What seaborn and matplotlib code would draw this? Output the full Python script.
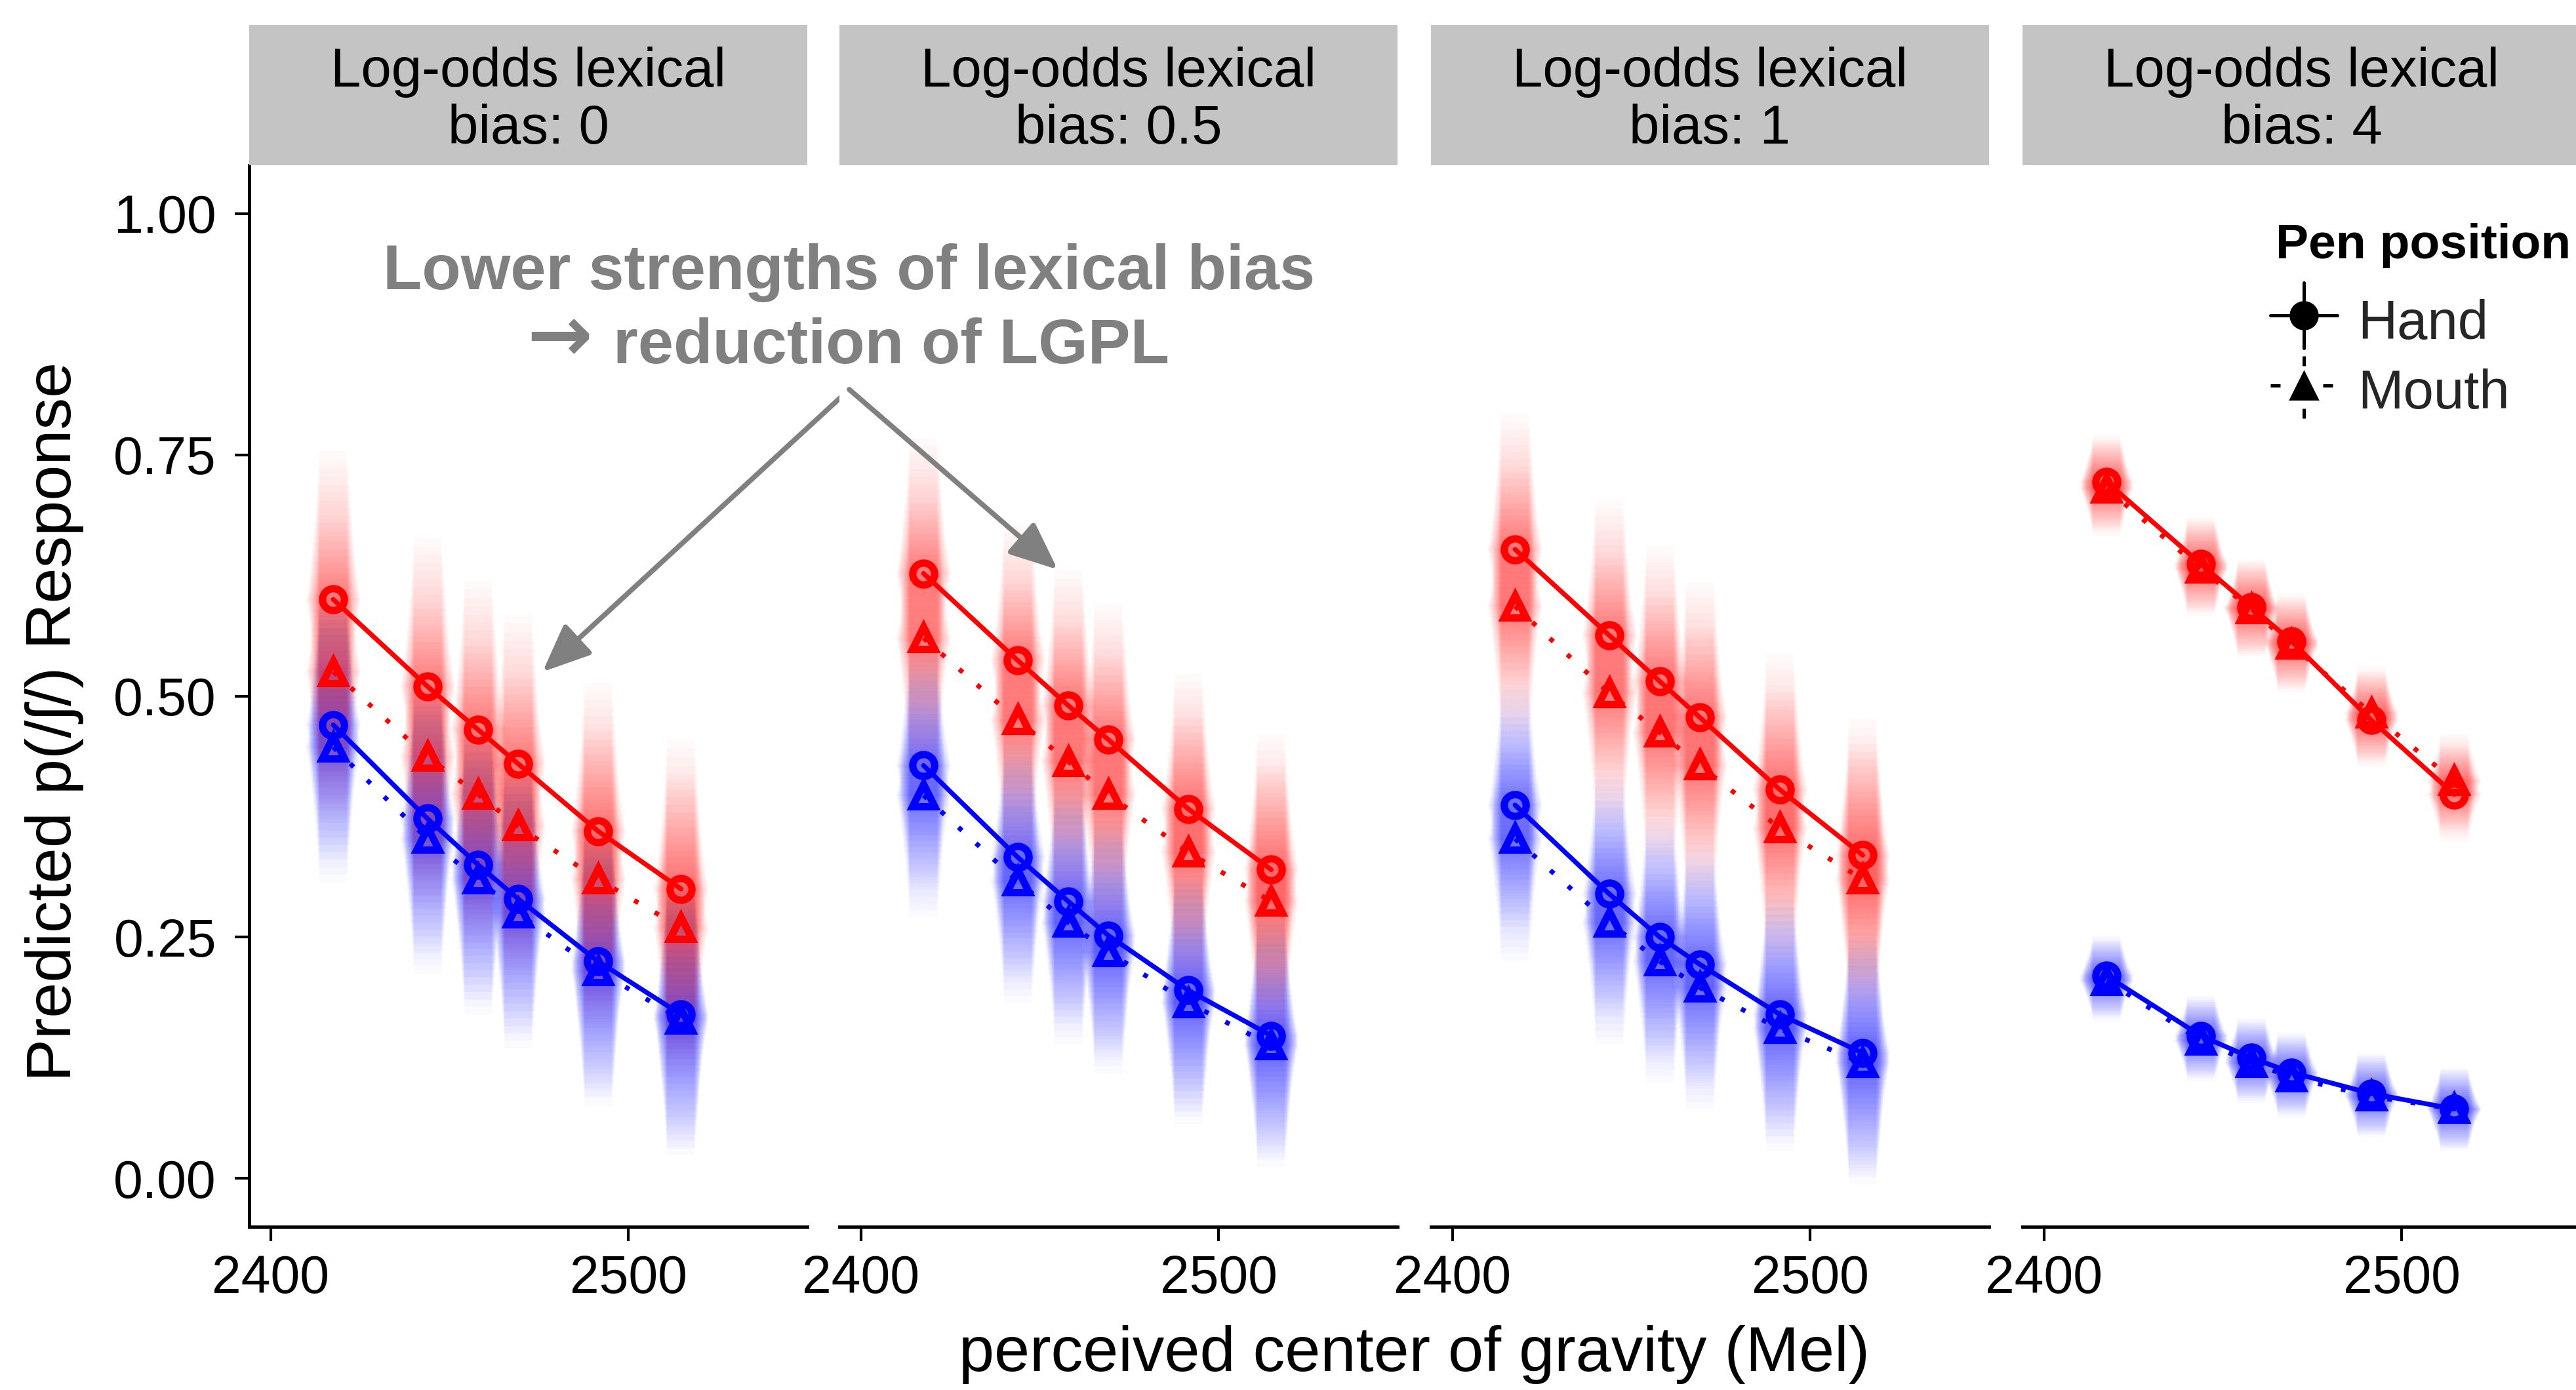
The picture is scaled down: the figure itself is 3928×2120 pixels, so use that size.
import numpy as np
import pandas as pd
import matplotlib
matplotlib.use("Agg")
import matplotlib.pyplot as plt
import seaborn as sns
from matplotlib.lines import Line2D
from matplotlib.legend_handler import HandlerBase

# ---------------- data ----------------
x_cog = [2417.5, 2443.8, 2458.0, 2469.1, 2491.5, 2514.7]
bias_levels = ["0", "0.5", "1", "4"]

red_hand = [[0.600, 0.510, 0.465, 0.430, 0.360, 0.300],
            [0.627, 0.537, 0.490, 0.455, 0.383, 0.320],
            [0.652, 0.563, 0.515, 0.478, 0.403, 0.335],
            [0.722, 0.637, 0.592, 0.557, 0.475, 0.398]]
red_mouth = [[0.525, 0.437, 0.398, 0.365, 0.310, 0.260],
             [0.560, 0.475, 0.432, 0.398, 0.338, 0.287],
             [0.593, 0.503, 0.462, 0.428, 0.363, 0.310],
             [0.715, 0.632, 0.590, 0.553, 0.482, 0.412]]
blue_hand = [[0.470, 0.373, 0.325, 0.290, 0.225, 0.170],
             [0.428, 0.333, 0.287, 0.252, 0.195, 0.148],
             [0.387, 0.295, 0.250, 0.222, 0.170, 0.130],
             [0.210, 0.148, 0.125, 0.110, 0.088, 0.072]]
blue_mouth = [[0.447, 0.352, 0.310, 0.275, 0.215, 0.165],
              [0.397, 0.308, 0.265, 0.235, 0.182, 0.138],
              [0.352, 0.265, 0.225, 0.198, 0.155, 0.120],
              [0.205, 0.143, 0.120, 0.105, 0.085, 0.072]]

# half-extent of posterior sample clouds per panel
red_spread = [0.11, 0.10, 0.10, 0.035]
blue_spread = [0.10, 0.09, 0.09, 0.030]

x_ticks = [2400, 2500]
y_ticks = [0.00, 0.25, 0.50, 0.75, 1.00]
y_tick_labels = ["0.00", "0.25", "0.50", "0.75", "1.00"]
legend_labels = ["Hand", "Mouth"]

palette = {"red": "#FF0000", "blue": "#0000FF"}

# ---------------- long table ----------------
rows = []
for i, b in enumerate(bias_levels):
    for series, col, pos in [(red_hand, "red", "Hand"), (red_mouth, "red", "Mouth"),
                             (blue_hand, "blue", "Hand"), (blue_mouth, "blue", "Mouth")]:
        for x, y in zip(x_cog, series[i]):
            rows.append(dict(bias=b, cog=x, p=y, color=col, position=pos))
df = pd.DataFrame(rows)

sns.set_theme(style="ticks")
plt.rcParams["font.family"] = ["Liberation Sans", "DejaVu Sans"]

W, H = 3928, 2120
fig = plt.figure(figsize=(W / 200, H / 200), dpi=200)
lefts = [380, 1280, 2182, 3084]
pw = 851
top, bottom = 252, 1871
strip_top = 38

axes = []
for i, b in enumerate(bias_levels):
    ax = fig.add_axes([lefts[i] / W, 1 - bottom / H, pw / W, (bottom - top) / H])
    axes.append(ax)
    sub = df[df.bias == b]
    # posterior clouds (soft vertical density bands)
    for (col, pos), g in sub.groupby(["color", "position"]):
        s = (red_spread if col == "red" else blue_spread)[i]
        N = 24
        for k in range(1, N + 1):
            f = k / N
            ext = 1.4 * s * f ** 1.4
            ax.vlines(g.cog, g.p - ext, g.p + ext, colors=palette[col],
                      linewidth=31 - 16 * f, alpha=0.018, zorder=1, capstyle="butt")
    sns.lineplot(data=sub, x="cog", y="p", hue="color", style="position",
                 palette=palette, markers={"Hand": "o", "Mouth": "^"},
                 dashes={"Hand": "", "Mouth": (1, 4)}, linewidth=2.6, markersize=12,
                 errorbar=None, ax=ax, legend=False, zorder=3)
    for ln in ax.lines:
        ln.set_markerfacecolor("none")
        ln.set_markeredgecolor(ln.get_color())
        ln.set_markeredgewidth(4.0)

    ax.set_xlim(2394, 2550)
    ax.set_ylim(-0.05, 1.05)
    ax.set_xticks(x_ticks)
    ax.set_xticklabels([str(t) for t in x_ticks])
    ax.set_xlabel("")
    ax.set_ylabel("")
    ax.set_facecolor("white")
    for sp in ["top", "right"]:
        ax.spines[sp].set_visible(False)
    ax.spines["bottom"].set_linewidth(1.8)
    ax.spines["bottom"].set_color("black")
    ax.tick_params(axis="x", length=8, width=1.5, pad=7, labelsize=29, colors="black")
    if i == 0:
        ax.spines["left"].set_linewidth(1.8)
        ax.spines["left"].set_color("black")
        ax.set_yticks(y_ticks)
        ax.set_yticklabels(y_tick_labels)
        ax.tick_params(axis="y", length=8, width=1.5, pad=10, labelsize=29, colors="black")
    else:
        ax.spines["left"].set_visible(False)
        ax.set_yticks([])

    # strip
    sax = fig.add_axes([lefts[i] / W, 1 - top / H, pw / W, (top - strip_top) / H])
    sax.set_facecolor("#C4C4C4")
    sax.set_xticks([])
    sax.set_yticks([])
    for sp in sax.spines.values():
        sp.set_visible(False)
    sax.text(0.5, 0.46, f"Log-odds lexical\nbias: {b}", ha="center", va="center",
             fontsize=30, linespacing=1.15, transform=sax.transAxes, color="black")

# axis titles
fig.text(83 / W, 1 - 1100 / H, "Predicted p(/ʃ/) Response", rotation=90,
         ha="center", va="center", fontsize=35, color="black")
fig.text(2157 / W, 1 - 2066 / H, "perceived center of gravity (Mel)",
         ha="center", va="center", fontsize=35, color="black")

# annotation
grey = "#808080"
fig.text(1295 / W, 1 - 416 / H, "Lower strengths of lexical bias", ha="center",
         va="center", fontsize=35, fontweight="bold", color=grey)
fig.text(853 / W, 1 - 517 / H, "→", ha="center", va="center", fontsize=43,
         fontweight="bold", color=grey, family=["DejaVu Sans"])
fig.text(935 / W, 1 - 529 / H, "reduction of LGPL", ha="left",
         va="center", fontsize=35, fontweight="bold", color=grey)
arrow_kw = dict(arrowstyle="-|>,head_length=0.7,head_width=0.3", color=grey,
                lw=2.8, mutation_scale=32, shrinkA=0, shrinkB=0)
axes[0].annotate("", xy=(2476, 0.525), xycoords="data",
                 xytext=(1295 / W, 1 - 594 / H), textcoords="figure fraction",
                 arrowprops=arrow_kw, annotation_clip=False)
axes[1].annotate("", xy=(2455, 0.631), xycoords="data",
                 xytext=(1295 / W, 1 - 594 / H), textcoords="figure fraction",
                 arrowprops=arrow_kw, annotation_clip=False)


# legend
class PenHandler(HandlerBase):
    def __init__(self, marker, dashes):
        super().__init__()
        self.marker = marker
        self.dashes = dashes

    def create_artists(self, legend, orig_handle, xdescent, ydescent, width, height,
                       fontsize, trans):
        x0, x1 = -xdescent, -xdescent + width
        cx = (x0 + x1) / 2
        cy = (height - ydescent) / 2
        half = 18
        kw = dict(color="black", linewidth=1.8, transform=trans)
        h = Line2D([x0, x1], [cy, cy], **kw)
        v = Line2D([cx, cx], [cy - half, cy + half], **kw)
        if self.dashes:
            h.set_dashes(self.dashes)
            v.set_dashes(self.dashes)
        m = Line2D([cx], [cy], marker=self.marker, markersize=15, color="black",
                   linestyle="none", transform=trans)
        return [h, v, m]


fig.text(3470 / W, 1 - 375 / H, "Pen position", ha="left", va="center",
         fontsize=27, fontweight="bold", color="black")
h_hand = Line2D([], [], color="black")
h_mouth = Line2D([], [], color="black")
leg = fig.legend([h_hand, h_mouth], legend_labels,
                 handler_map={h_hand: PenHandler("o", None), h_mouth: PenHandler("^", (3, 5))},
                 loc="upper left", bbox_to_anchor=(3462 / W, 1 - 446 / H),
                 frameon=False, fontsize=30,
                 handlelength=1.22, handleheight=1.2, handletextpad=0.38,
                 labelspacing=0.22, borderpad=0, borderaxespad=0)

fig.savefig("out.png", dpi=200, facecolor="white")
